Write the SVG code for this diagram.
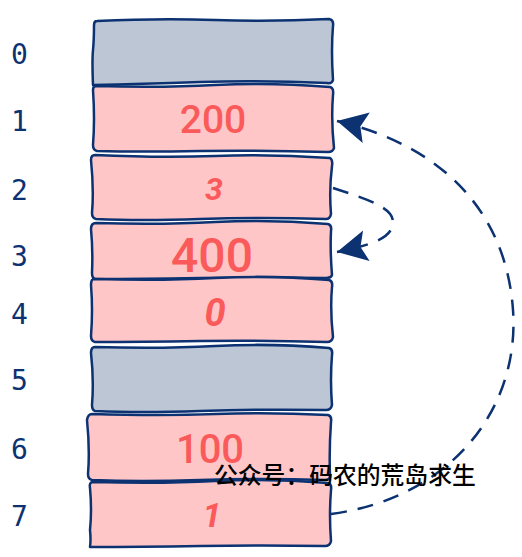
<svg xmlns="http://www.w3.org/2000/svg" width="522" height="557" viewBox="0 0 522 557">
<style>
.gray{fill:#bcc6d4;stroke:#0c3272;stroke-width:2.5;stroke-linejoin:round}
.pink{fill:#ffc6c8;stroke:#0c3272;stroke-width:2.5;stroke-linejoin:round}
.idx{font-family:"DejaVu Sans Mono",monospace;font-size:28px;fill:#0c3272}
.val{font-family:Roboto,"Liberation Sans",Arial,sans-serif;font-weight:500;fill:#fa5a5a;text-anchor:middle}
.it{font-style:italic;font-weight:bold}
.conn{fill:none;stroke:#0c3272;stroke-width:2.5;stroke-dasharray:16 11}
.wm{font-family:"Noto Sans CJK SC",sans-serif;font-size:23.8px;font-weight:500;fill:#000}
</style>
<defs>
<marker id="ah" viewBox="0 0 10 10" refX="9" refY="5" markerWidth="12" markerHeight="12" markerUnits="userSpaceOnUse" orient="auto" overflow="visible">
<path d="M-22,-8 L3,5 L-22,18 L-17,5 Z" fill="#0c3272" transform="translate(6,0)"/>
</marker>
</defs>
<g id="labels">
<text class="idx" x="11" y="64">0</text>
<text class="idx" x="11" y="131">1</text>
<text class="idx" x="11" y="200">2</text>
<text class="idx" x="11" y="266">3</text>
<text class="idx" x="11" y="324">4</text>
<text class="idx" x="11" y="390">5</text>
<text class="idx" x="11" y="459">6</text>
<text class="idx" x="11" y="526">7</text>
</g>
<g id="cell0"><path class="gray" d="M97,21 Q160,18 215,20 T329,19 Q334,20 333,26 Q331,50 333,80 Q332,84 327,83 Q260,80 200,82 T93,85 Q92,60 93,50 T94,25 Q94,21 97,21 Z"/></g>
<g id="cell1"><path class="pink" d="M96,86 Q160,88 215,85 T330,87 Q334,88 333,95 Q331,120 334,148 Q333,152 328,152 Q260,150 200,151 T97,151 Q93,150 93,145 Q95,120 93,90 Q93,86 96,86 Z"/><text class="val" x="213" y="133" font-size="39">200</text></g>
<g id="cell2"><path class="pink" d="M95,155 Q160,158 215,156 T330,158 Q333,160 332,166 Q329,190 331,214 Q330,219 326,219 Q260,217 200,219 T96,219 Q92,218 92,213 Q94,190 91,160 Q91,155 95,155 Z"/><text class="val it" x="214" y="200" font-size="32">3</text></g>
<g id="cell3"><path class="pink" d="M96,223 Q160,225 215,222 T328,224 Q332,225 331,231 Q330,250 332,275 Q331,278 326,278 Q260,277 200,278 T95,279 Q92,278 92,273 Q93,250 91,229 Q91,223 96,223 Z"/><text class="val" x="212" y="272" font-size="48">400</text></g>
<g id="cell4"><path class="pink" d="M94,279 Q160,281 215,278 T329,280 Q333,281 332,287 Q330,310 333,337 Q332,342 327,342 Q260,340 200,341 T95,342 Q91,341 91,336 Q93,310 91,285 Q91,279 94,279 Z"/><text class="val it" x="215" y="326" font-size="38" font-weight="600">0</text></g>
<g id="cell5"><path class="gray" d="M95,347 Q160,349 215,346 T329,348 Q333,349 332,355 Q330,380 332,405 Q331,410 326,410 Q260,409 200,411 T95,411 Q92,410 92,405 Q94,380 91,353 Q91,347 95,347 Z"/></g>
<g id="cell6"><path class="pink" d="M92,414 Q160,416 215,414 T328,415 Q332,416 331,422 Q329,450 330,476 Q330,480 325,480 Q260,478 200,480 T92,480 Q88,479 88,474 Q90,450 87,420 Q88,414 92,414 Z"/><text class="val" x="210" y="463" font-size="40" font-weight="400">100</text></g>
<g id="cell7"><path class="pink" d="M93,482 Q160,484 215,481 T328,483 Q332,484 331,490 Q329,515 331,541 Q330,546 325,546 Q260,545 200,546 T90,547 Q91,540 90,530 Q92,510 90,488 Q89,482 93,482 Z"/><text class="val it" x="212" y="527" font-size="34" font-weight="600">1</text></g>
<g id="connectors">
<path class="conn" marker-end="url(#ah)" d="M331,514 C450,498 520,410 513,310 C506,210 440,145 337,121"/>
<path class="conn" marker-end="url(#ah)" d="M333,188 C370,200 393,208 393,222 C393,240 365,246 337,252"/>
</g>
<text class="wm" x="214" y="484">公众号：码农的荒岛求生</text>
</svg>
